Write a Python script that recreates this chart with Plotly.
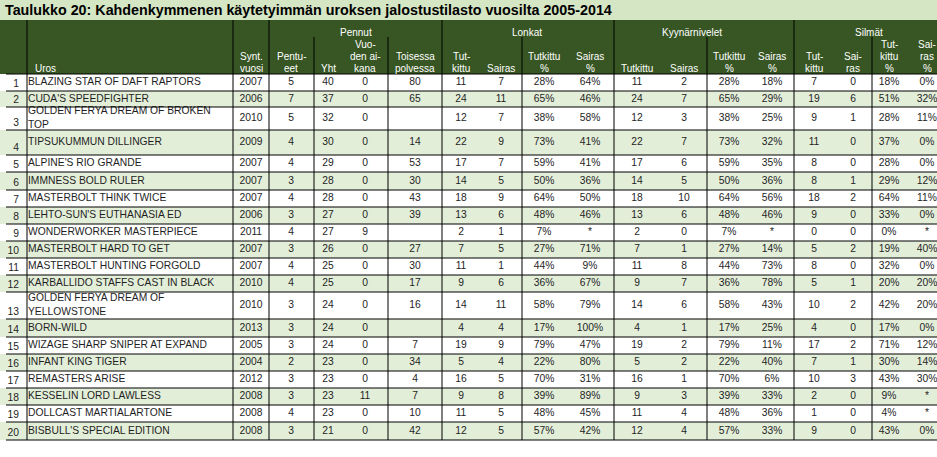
import plotly.graph_objects as go

# Taulukon tiedot
title = "Taulukko 20: Kahdenkymmenen käytetyimmän uroksen jalostustilasto vuosilta 2005-2014"

names = [
    "BLAZING STAR OF DAFT RAPTORS", "CUDA'S SPEEDFIGHTER",
    "GOLDEN FERYA DREAM OF BROKEN<br>TOP", "TIPSUKUMMUN DILLINGER",
    "ALPINE'S RIO GRANDE", "IMMNESS BOLD RULER", "MASTERBOLT THINK TWICE",
    "LEHTO-SUN'S EUTHANASIA ED", "WONDERWORKER MASTERPIECE",
    "MASTERBOLT HARD TO GET", "MASTERBOLT HUNTING FORGOLD",
    "KARBALLIDO STAFFS CAST IN BLACK", "GOLDEN FERYA DREAM OF<br>YELLOWSTONE",
    "BORN-WILD", "WIZAGE SHARP SNIPER AT EXPAND", "INFANT KING TIGER",
    "REMASTERS ARISE", "KESSELIN LORD LAWLESS", "DOLLCAST MARTIALARTONE",
    "BISBULL'S SPECIAL EDITION",
]
birth_year = [2007, 2006, 2010, 2009, 2007, 2007, 2007, 2006, 2011, 2007,
              2007, 2010, 2010, 2013, 2005, 2004, 2012, 2008, 2008, 2008]
litters = [5, 7, 5, 4, 4, 3, 4, 3, 4, 3, 4, 4, 3, 3, 3, 2, 3, 3, 4, 3]
pups_total = [40, 37, 32, 30, 29, 28, 28, 27, 27, 26, 25, 25, 24, 24, 24, 23, 23, 23, 23, 21]
pups_year = [0, 0, 0, 0, 0, 0, 0, 0, 9, 0, 0, 0, 0, 0, 0, 0, 0, 11, 0, 0]
second_gen = [80, 65, None, 14, 53, 30, 43, 39, None, 27, 30, 17, 16, None, 7, 34, 4, 7, 10, 42]

hips_tested = [11, 24, 12, 22, 17, 14, 18, 13, 2, 7, 11, 9, 14, 4, 19, 5, 16, 9, 11, 12]
hips_ill = [7, 11, 7, 9, 7, 5, 9, 6, 1, 5, 1, 6, 11, 4, 9, 4, 5, 8, 5, 5]
hips_tested_pct = [28, 65, 38, 73, 59, 50, 64, 48, 7, 27, 44, 36, 58, 17, 79, 22, 70, 39, 48, 57]
hips_ill_pct = [64, 46, 58, 41, 41, 36, 50, 46, None, 71, 9, 67, 79, 100, 47, 80, 31, 89, 45, 42]

elbows_tested = [11, 24, 12, 22, 17, 14, 18, 13, 2, 7, 11, 9, 14, 4, 19, 5, 16, 9, 11, 12]
elbows_ill = [2, 7, 3, 7, 6, 5, 10, 6, 0, 1, 8, 7, 6, 1, 2, 2, 1, 3, 4, 4]
elbows_tested_pct = [28, 65, 38, 73, 59, 50, 64, 48, 7, 27, 44, 36, 58, 17, 79, 22, 70, 39, 48, 57]
elbows_ill_pct = [18, 29, 25, 32, 35, 36, 56, 46, None, 14, 73, 78, 43, 25, 11, 40, 6, 33, 36, 33]

eyes_tested = [7, 19, 9, 11, 8, 8, 18, 9, 0, 5, 8, 5, 10, 4, 17, 7, 10, 2, 1, 9]
eyes_ill = [0, 6, 1, 0, 0, 1, 2, 0, 0, 2, 0, 1, 2, 0, 2, 1, 3, 0, 0, 0]
eyes_tested_pct = [18, 51, 28, 37, 28, 29, 64, 33, 0, 19, 32, 20, 42, 17, 71, 30, 43, 9, 4, 43]
eyes_ill_pct = [0, 32, 11, 0, 0, 12, 11, 0, None, 40, 0, 20, 20, 0, 12, 14, 30, None, None, 0]

# Ylätunnisteet
group_labels = ["Pennut", "Lonkat", "Kyynärnivelet", "Silmät"]
col_labels = ["Synt.<br>vuosi", "Pentu-<br>eet", "Yht", "Vuo-<br>den ai-<br>kana",
              "Toisessa<br>polvessa",
              "Tut-<br>kittu", "Sairas", "Tutkittu<br>%", "Sairas<br>%",
              "Tutkittu", "Sairas", "Tutkittu<br>%", "Sairas<br>%",
              "Tut-<br>kittu", "Sai-<br>ras", "Tut-<br>kittu<br>%", "Sai-<br>ras<br>%"]

# Asettelu (pikseleinä)
W, H = 937, 457
TITLE_BOTTOM, HEADER_BOTTOM = 20, 74
row_heights = [17, 16, 23, 25, 17, 18, 17, 17, 17, 17, 17, 17, 27, 18, 17, 17, 17, 17, 17, 18]
col_x = [251, 291, 328, 365, 415, 461, 501, 544, 590, 637, 684, 729, 772, 814, 853, 889, 927]
group_x = [356, 527, 692, 869]
main_lines = [27, 233, 269, 442, 614, 794]
sub_lines = [314, 388, 522, 707, 872]

FONT = "Liberation Sans, Arial, sans-serif"
DARK = "#375623"
STRIPE = "#e3eed9"
TITLE_BG = "#d4e6c3"
TEXT = "#1e1e1e"
BODY_SIZE = 10.3


def fmt(v, pct=False):
    if v is None:
        return "*" if pct else ""
    return f"{v}%" if pct else str(v)


columns = [
    (birth_year, False), (litters, False), (pups_total, False), (pups_year, False),
    (second_gen, False),
    (hips_tested, False), (hips_ill, False), (hips_tested_pct, True), (hips_ill_pct, True),
    (elbows_tested, False), (elbows_ill, False), (elbows_tested_pct, True), (elbows_ill_pct, True),
    (eyes_tested, False), (eyes_ill, False), (eyes_tested_pct, True), (eyes_ill_pct, True),
]

# Rivien rajat
edges = [HEADER_BOTTOM]
for h in row_heights:
    edges.append(edges[-1] + h)
row_mid = [(edges[i] + edges[i + 1]) / 2 for i in range(len(names))]
table_bottom = edges[-1]

fig = go.Figure()
shapes = []

shapes.append(dict(type="rect", x0=0, x1=W, y0=0, y1=TITLE_BOTTOM,
                   fillcolor=TITLE_BG, line=dict(width=0), layer="below"))
shapes.append(dict(type="rect", x0=0, x1=W, y0=TITLE_BOTTOM, y1=HEADER_BOTTOM,
                   fillcolor=DARK, line=dict(width=0), layer="below"))
for i in range(len(names)):
    if i % 2 == 1:
        shapes.append(dict(type="rect", x0=0, x1=W, y0=edges[i], y1=edges[i + 1],
                           fillcolor=STRIPE, line=dict(width=0), layer="below"))

# Viivat
for y in edges:
    shapes.append(dict(type="line", x0=6, x1=W, y0=y, y1=y,
                       line=dict(color="black", width=1)))
for x in main_lines:
    shapes.append(dict(type="line", x0=x, x1=x, y0=TITLE_BOTTOM, y1=table_bottom,
                       line=dict(color="black", width=1)))
for x in sub_lines:
    shapes.append(dict(type="line", x0=x, x1=x, y0=37, y1=table_bottom,
                       line=dict(color="black", width=1)))

# Rivinumerot
fig.add_trace(go.Scatter(
    x=[19] * len(names), y=[e - 7 for e in edges[1:]],
    text=[str(i + 1) for i in range(len(names))],
    mode="text", textposition="middle left",
    textfont=dict(family=FONT, size=BODY_SIZE, color=TEXT),
    hoverinfo="skip", showlegend=False, cliponaxis=False))

# Urokset
fig.add_trace(go.Scatter(
    x=[28] * len(names), y=row_mid, text=names,
    mode="text", textposition="middle right",
    textfont=dict(family=FONT, size=BODY_SIZE, color=TEXT),
    hoverinfo="skip", showlegend=False, cliponaxis=False))

# Arvosarakkeet
for cx, (vals, pct) in zip(col_x, columns):
    fig.add_trace(go.Scatter(
        x=[cx] * len(vals), y=row_mid, text=[fmt(v, pct) for v in vals],
        mode="text", textposition="middle center",
        textfont=dict(family=FONT, size=BODY_SIZE, color=TEXT),
        hoverinfo="skip", showlegend=False, cliponaxis=False))

annotations = []
annotations.append(dict(x=3, y=10, text="<b>" + title + "</b>", showarrow=False,
                        xanchor="left", yanchor="middle",
                        font=dict(family=FONT, size=14.3, color="black")))
for gx, label in zip(group_x, group_labels):
    annotations.append(dict(x=gx, y=32, text=label, showarrow=False,
                            xanchor="center", yanchor="middle",
                            font=dict(family=FONT, size=10, color="white")))
# Otsikkorivit yksi kerrallaan, alhaalta ylöspäin
for cx, label in zip(col_x, col_labels):
    parts = label.split("<br>")
    for k, part in enumerate(reversed(parts)):
        annotations.append(dict(x=cx, y=68 - 11.8 * k, text=part, showarrow=False,
                                xanchor="center", yanchor="middle",
                                font=dict(family=FONT, size=10, color="white")))
annotations.append(dict(x=33, y=68, text="Uros", showarrow=False,
                        xanchor="left", yanchor="middle",
                        font=dict(family=FONT, size=10, color="white")))

fig.update_layout(
    width=W, height=H, autosize=False,
    margin=dict(l=0, r=0, t=0, b=0, pad=0),
    paper_bgcolor="white", plot_bgcolor="white",
    shapes=shapes, annotations=annotations,
    xaxis=dict(range=[0, W], visible=False, fixedrange=True),
    yaxis=dict(range=[H, 0], visible=False, fixedrange=True),
)

fig.write_html("out.html", config={"displayModeBar": False},
               post_script="document.body.style.margin='0';document.body.style.overflow='hidden';")
